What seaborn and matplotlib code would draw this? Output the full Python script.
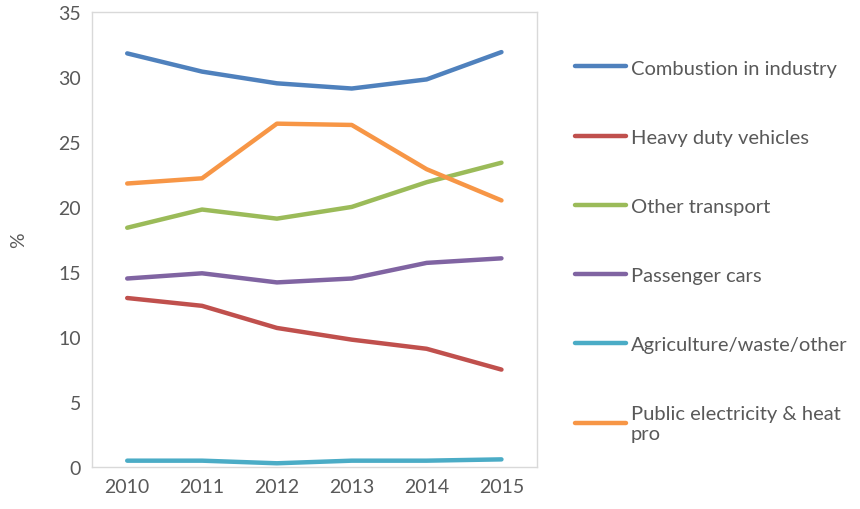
import pandas as pd
import seaborn as sns
import matplotlib.pyplot as plt

years = [2010, 2011, 2012, 2013, 2014, 2015]

series_names = [
    'Combustion in industry',
    'Heavy duty vehicles',
    'Other transport',
    'Passenger cars',
    'Agriculture/waste/other',
    'Public electricity & heat\npro',
]

combustion = [31.8, 30.4, 29.5, 29.1, 29.8, 31.9]
heavy_duty = [13.0, 12.4, 10.7, 9.8, 9.1, 7.5]
other_transport = [18.4, 19.8, 19.1, 20.0, 21.9, 23.4]
passenger_cars = [14.5, 14.9, 14.2, 14.5, 15.7, 16.05]
agriculture = [0.5, 0.5, 0.3, 0.5, 0.5, 0.6]
public_electricity = [21.8, 22.2, 26.4, 26.3, 22.9, 20.5]

colors = ['#4F81BD', '#C0504D', '#9BBB59', '#8064A2', '#4BACC6', '#F79646']

all_values = [combustion, heavy_duty, other_transport, passenger_cars,
              agriculture, public_electricity]

records = []
for name, vals in zip(series_names, all_values):
    for y, v in zip(years, vals):
        records.append((name, y, v))
df = pd.DataFrame(records, columns=['Source', 'Year', 'Value'])

sns.set_style('white')
plt.rcParams['font.family'] = ['Lato', 'DejaVu Sans']

fig = plt.figure(figsize=(8.6, 5.1), dpi=100)
ax = fig.add_axes([0.107, 0.082, 0.517, 0.893])

sns.lineplot(data=df, x='Year', y='Value', hue='Source', hue_order=series_names,
             palette=colors, linewidth=3.2, ax=ax, legend=True)

ax.set_xlim(2009.53, 2015.47)
ax.set_ylim(0, 35)
ax.set_xticks(years)
ax.set_yticks(range(0, 36, 5))
ax.tick_params(axis='both', length=0, labelsize=14, labelcolor='#595959', pad=8)
ax.set_xlabel('')
ax.set_ylabel('%', fontsize=14, color='#595959', labelpad=22)
for s in ax.spines.values():
    s.set_color('#D9D9D9')
    s.set_linewidth(1)

handles, labels = ax.get_legend_handles_labels()
ax.legend(handles, labels, loc='upper left', bbox_to_anchor=(1.069, 0.913),
          frameon=False, fontsize=14.5, labelcolor='#595959',
          handlelength=2.5, handletextpad=0.25, labelspacing=2.58,
          borderaxespad=0)

fig.savefig('out.png', dpi=100)
